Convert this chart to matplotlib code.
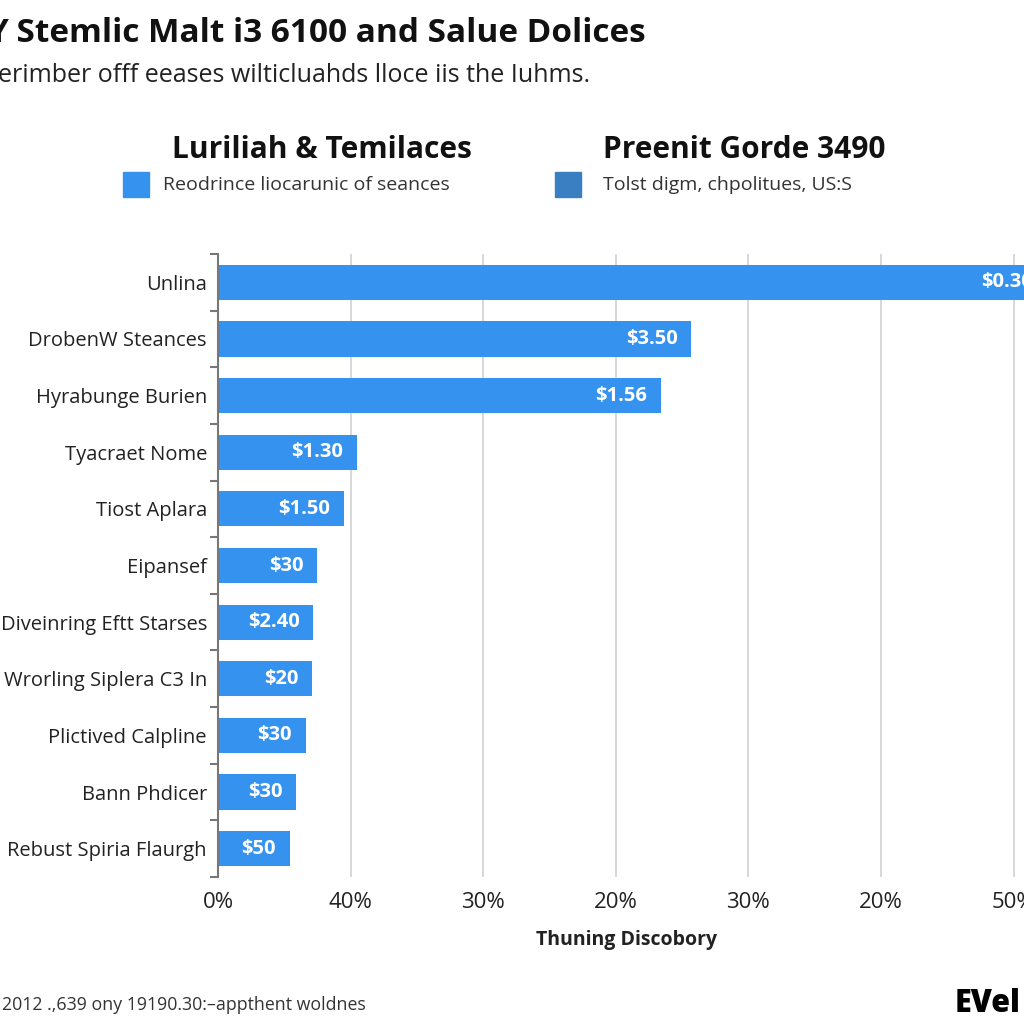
import matplotlib
matplotlib.use("Agg")
import matplotlib.pyplot as plt
from matplotlib.patches import Rectangle
import numpy as np

plt.rcParams["font.family"] = ["Open Sans", "DejaVu Sans"]

# Data
categories = [
    "Unlina",
    "DrobenW Steances",
    "Hyrabunge Burien",
    "Tyacraet Nome",
    "Tiost Aplara",
    "Eipansef",
    "Diveinring Eftt Starses",
    "Wrorling Siplera C3 In",
    "Plictived Calpline",
    "Bann Phdicer",
    "Rebust Spiria Flaurgh",
]
values = [6.25, 3.57, 3.34, 1.05, 0.95, 0.75, 0.72, 0.71, 0.66, 0.59, 0.54]
value_labels = ["$0.30", "$3.50", "$1.56", "$1.30", "$1.50", "$30",
                "$2.40", "$20", "$30", "$30", "$50"]
xtick_labels = ["0%", "40%", "30%", "20%", "30%", "20%", "50%"]

title = "Y Stemlic Malt i3 6100 and Salue Dolices"
subtitle = "erimber offf eeases wilticluahds lloce iis the Iuhms."
legend_heads = ["Luriliah & Temilaces", "Preenit Gorde 3490"]
legend_items = ["Reodrince liocarunic of seances", "Tolst digm, chpolitues, US:S"]
xlabel = "Thuning Discobory"
footer = "2012 .,639 ony 19190.30:\u2013appthent woldnes"
logo = "EVel"

bar_color = "#3592ee"
legend_colors = ["#3592ee", "#3a7fc2"]

W = 1024
fig = plt.figure(figsize=(10.24, 10.24), dpi=100)
fig.patch.set_facecolor("white")

# axes: spine at x=218, 132.6 px per unit, y from 254 to 877
unit = 132.6
xmax = 6.4
ax = fig.add_axes([218 / W, 1 - 877 / W, xmax * unit / W, (877 - 254) / W])

y = np.arange(len(categories))
ax.barh(y, values, height=0.62, color=bar_color, zorder=2)
ax.set_ylim(len(categories) - 0.5, -0.5)
ax.set_xlim(0, xmax)

for yi, v, lab in zip(y, values, value_labels):
    ax.annotate(lab, (v, yi), xytext=(-10, 0), textcoords="offset points",
                ha="right", va="center", color="white", fontsize=14.5,
                fontweight="bold", zorder=3)

ax.set_yticks(y, labels=categories, fontsize=14.5, color="#222222")
ax.set_yticks(np.arange(len(categories) + 1) - 0.5, minor=True)
ax.tick_params(axis="y", which="major", length=0, pad=8)
ax.tick_params(axis="y", which="minor", length=6, width=1.5, color="#777777")

ax.set_xticks(np.arange(len(xtick_labels)), labels=xtick_labels,
              fontsize=16, color="#222222")
ax.tick_params(axis="x", length=0, pad=11)
ax.grid(axis="x", color="#d4d4d4", linewidth=1.3, zorder=0)

for s in ["top", "right", "bottom"]:
    ax.spines[s].set_visible(False)
ax.spines["left"].set_color("#777777")
ax.spines["left"].set_linewidth(1.5)

# Titles
fig.text(-13 / W, 1 - 33 / W, title, fontsize=24, fontweight="bold",
         color="#111111", va="center", ha="left")
fig.text(-2 / W, 1 - 75 / W, subtitle, fontsize=18, color="#222222",
         va="center", ha="left")

# Legend block
head_x = [172, 603]
patch_x = [123, 555]
text_x = [163, 603]
for hx, px, tx, head, item, col in zip(head_x, patch_x, text_x,
                                       legend_heads, legend_items, legend_colors):
    fig.text(hx / W, 1 - 150 / W, head, fontsize=21.5, fontweight="bold",
             color="#111111", va="center", ha="left")
    fig.patches.append(Rectangle((px / W, 1 - 197 / W), 26 / W, 25 / W,
                                 transform=fig.transFigure, color=col))
    fig.text(tx / W, 1 - 185 / W, item, fontsize=14, color="#333333",
             va="center", ha="left")

fig.text(627 / W, 1 - 940 / W, xlabel, fontsize=14, fontweight="bold",
         color="#222222", va="center", ha="center")
fig.text(2 / W, 1 - 1005 / W, footer, fontsize=12.8, color="#333333",
         va="center", ha="left")
fig.text(955 / W, 1 - 1004 / W, logo, fontsize=22, fontweight="heavy",
         color="#000000", va="center", ha="left")

fig.savefig("out.png", dpi=100)
